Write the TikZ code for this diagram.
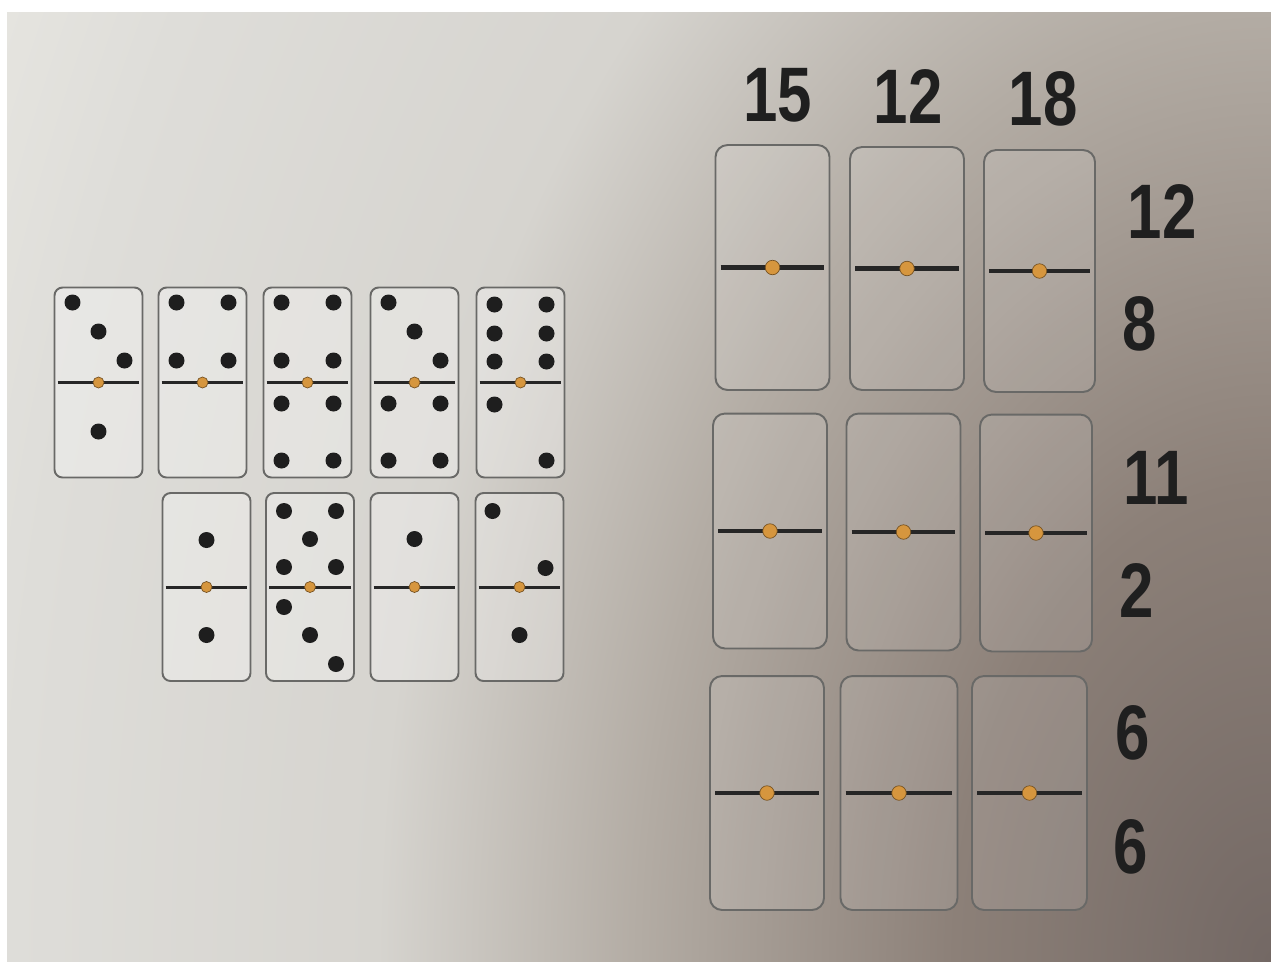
\documentclass[tikz,border=0pt]{standalone}
\usepackage{fontspec}
\setmainfont{Liberation Sans}
\newfontfamily\sumfont{Liberation Sans}[FakeStretch=0.8]
\usepackage{tikz}
\usetikzlibrary{calc}

\definecolor{paperA}{RGB}{229,228,223}
\definecolor{shadeA}{RGB}{115,104,100}
\definecolor{shadeB}{RGB}{140,128,120}
\definecolor{shadeC}{RGB}{179,172,164}
\definecolor{shadeD}{RGB}{214,212,207}
\definecolor{shadeE}{RGB}{222,221,217}
\definecolor{tileline}{RGB}{105,105,103}
\definecolor{pipcol}{RGB}{30,30,30}
\definecolor{jointcol}{RGB}{214,150,62}
\pgfdeclareradialshading{photolight}{\pgfpoint{0bp}{0bp}}{color(0bp)=(shadeA); color(5.6bp)=(shadeB); color(11.2bp)=(shadeC); color(15.8bp)=(shadeD); color(22.3bp)=(shadeE); color(25bp)=(paperA); color(50bp)=(paperA)}

\begin{document}
\begin{tikzpicture}[
  x=0.02cm, y=-0.02cm,
  smalltile/.style={rectangle, draw=tileline, line width=1.1pt, rounded corners=0.16cm, fill=white, fill opacity=0.3, minimum width=1.76cm, minimum height=3.8cm},
  bigtile/.style={rectangle, draw=tileline, line width=1.1pt, rounded corners=0.24cm, fill=white, fill opacity=0.12, minimum width=2.28cm, minimum height=4.8cm},
  pip/.style={fill=pipcol},
  divider/.style={draw=black!85, line width=1.7pt},
  joint/.style={fill=jointcol, draw=jointcol!55!black, line width=0.4pt},
  sum/.style={font=\sumfont\bfseries\fontsize{44}{44}\selectfont, text=black!88},
]
  \useasboundingbox (0,0) rectangle (1271,961);
  \fill[white] (0,0) rectangle (1271,961);
  \fill[paperA] (7,12) rectangle (1271,961);
  \begin{scope}
    \clip (7,12) rectangle (1271,961);
    \shade[shading=photolight] (1271,961) ellipse [x radius=28.28cm, y radius=42.42cm];
  \end{scope}

  \node[smalltile] (L1) at (98.5,382.5) {};
  \node[smalltile] (L2) at (202.5,382.5) {};
  \node[smalltile] (L3) at (307.5,382.5) {};
  \node[smalltile] (L4) at (414.5,382.5) {};
  \node[smalltile] (L5) at (520.5,382.5) {};
  \node[smalltile,minimum height=3.76cm] (L6) at (206.5,587) {};
  \node[smalltile,minimum height=3.76cm] (L7) at (310,587) {};
  \node[smalltile,minimum height=3.76cm] (L8) at (414.5,587) {};
  \node[smalltile,minimum height=3.76cm] (L9) at (519.5,587) {};

  \node[bigtile,minimum height=4.9cm] (R11) at (772.5,267.5) {};
  \node[bigtile,minimum height=4.86cm] (R12) at (907,268.5) {};
  \node[bigtile,minimum height=4.84cm,minimum width=2.22cm] (R13) at (1039.5,271) {};
  \node[bigtile,minimum height=4.7cm] (R21) at (770,531) {};
  \node[bigtile,minimum height=4.74cm] (R22) at (903.5,532) {};
  \node[bigtile,minimum height=4.74cm,minimum width=2.24cm] (R23) at (1036,533) {};
  \node[bigtile,minimum height=4.68cm] (R31) at (767,793) {};
  \node[bigtile,minimum height=4.68cm,minimum width=2.34cm] (R32) at (899,793) {};
  \node[bigtile,minimum height=4.68cm,minimum width=2.3cm] (R33) at (1029.5,793) {};

  \foreach \t in {L1,L2,L3,L4,L5,L6,L7,L8,L9} {
    \draw[divider] ($(\t.west)+(4,0)$) -- ($(\t.east)+(-4,0)$);
    \filldraw[joint] (\t.center) circle[radius=0.11cm];
  }
  \foreach \t in {R11,R12,R13,R21,R22,R23,R31,R32,R33} {
    \draw[divider,line width=2.3pt] ($(\t.west)+(6,0)$) -- ($(\t.east)+(-6,0)$);
    \filldraw[joint] (\t.center) circle[radius=0.145cm];
  }

  \foreach \t/\px/\py in {L1/-26/-80, L1/0/-51, L1/26/-22, L1/0/49,
      L2/-26/-80, L2/26/-80, L2/-26/-22, L2/26/-22,
      L3/-26/-80, L3/26/-80, L3/-26/-22, L3/26/-22, L3/-26/21, L3/26/21, L3/-26/78, L3/26/78,
      L4/-26/-80, L4/0/-51, L4/26/-22, L4/-26/21, L4/26/21, L4/-26/78, L4/26/78,
      L5/-26/-78, L5/26/-78, L5/-26/-49, L5/26/-49, L5/-26/-21, L5/26/-21, L5/-26/22, L5/26/78,
      L6/0/-47, L6/0/48,
      L7/-26/-76, L7/26/-76, L7/0/-48, L7/-26/-20, L7/26/-20, L7/-26/20, L7/0/48, L7/26/77,
      L8/0/-48,
      L9/-27/-76, L9/26/-19, L9/0/48}
    \fill[pip] ($(\t.center)+(\px,\py)$) circle[radius=0.16cm];

  \node[sum] (col1) at (778,95) {15};
  \node[sum] (col2) at (908,97) {12};
  \node[sum] (col3) at (1043,99) {18};
  \node[sum] (top1) at (1162,212) {12};
  \node[sum] (bot1) at (1140,324) {8};
  \node[sum] (top2) at (1156,478) {11};
  \node[sum] (bot2) at (1137,590) {2};
  \node[sum] (top3) at (1133,733) {6};
  \node[sum] (bot3) at (1131,847) {6};
\end{tikzpicture}
\end{document}
